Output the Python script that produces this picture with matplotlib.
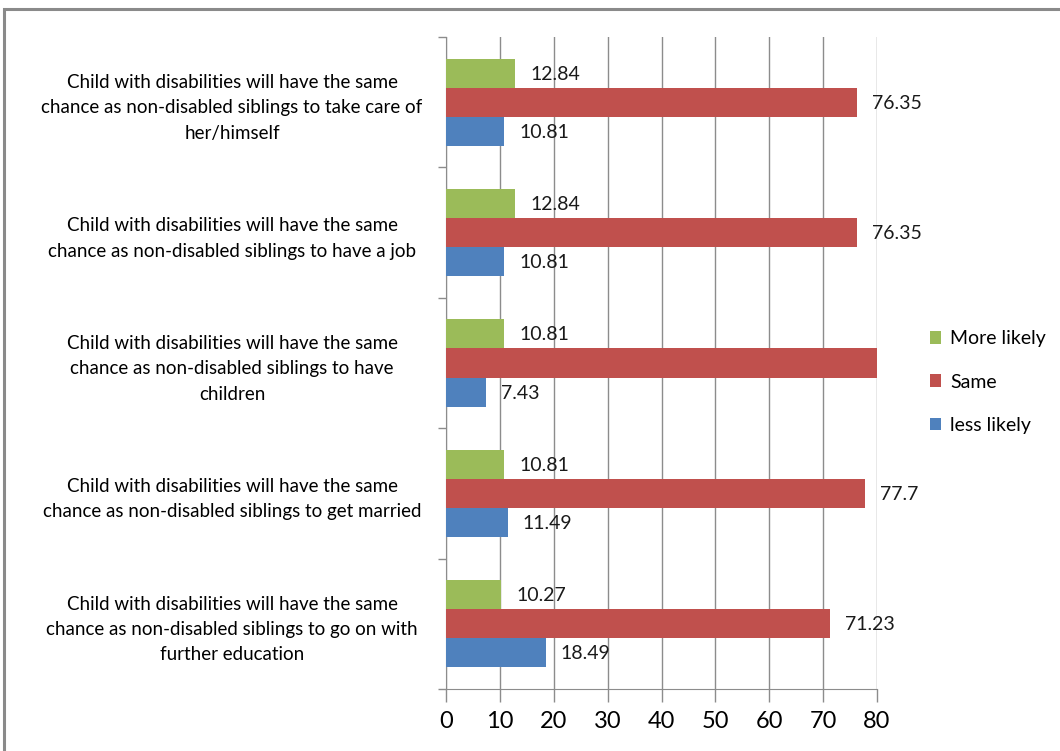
import matplotlib
matplotlib.use("Agg")
import numpy as np
from matplotlib import pyplot as plt
from matplotlib.patches import Rectangle

plt.rcParams['font.family'] = ['Lato', 'DejaVu Sans']

# categories, bottom to top
categories = [
    "Child with disabilities will have the same\nchance as non-disabled siblings to go on with\nfurther education",
    "Child with disabilities will have the same\nchance as non-disabled siblings to get married",
    "Child with disabilities will have the same\nchance as non-disabled siblings to have\nchildren",
    "Child with disabilities will have the same\nchance as non-disabled siblings to have a job",
    "Child with disabilities will have the same\nchance as non-disabled siblings to take care of\nher/himself",
]
more_likely = [10.27, 10.81, 10.81, 12.84, 12.84]
same = [71.23, 77.7, 81.76, 76.35, 76.35]
less_likely = [18.49, 11.49, 7.43, 10.81, 10.81]
x_ticks = [0, 10, 20, 30, 40, 50, 60, 70, 80]

green = '#9BBB59'
red = '#C0504D'
blue = '#4F81BD'
grid_col = '#8C8C8C'

fig = plt.figure(figsize=(10.60, 7.51), dpi=100)
# outer chart frame
fig.patches.append(Rectangle((4 / 1060, -0.01), 1.02, 1 - 9 / 751 + 0.01,
                             transform=fig.transFigure, fill=False,
                             edgecolor='#8A8A8A', lw=2.2))

ax = fig.add_axes([446 / 1060, 62 / 751, 431 / 1060, 652 / 751])
y = np.arange(len(categories))
h = 0.223

bars_g = ax.barh(y + h, more_likely, height=h, color=green, label='More likely', zorder=3)
bars_r = ax.barh(y, same, height=h, color=red, label='Same', zorder=3)
bars_b = ax.barh(y - h, less_likely, height=h, color=blue, label='less likely', zorder=3)

for bars, vals in ((bars_g, more_likely), (bars_r, same), (bars_b, less_likely)):
    for b, v in zip(bars, vals):
        if v > 80:
            continue  # outside the axis, hidden like in the source
        ax.annotate('{:g}'.format(v), xy=(v, b.get_y() + b.get_height() / 2),
                    xytext=(15, -1), textcoords='offset pixels',
                    va='center', ha='left', fontsize=14, color='#1a1a1a', zorder=4)

ax.set_xlim(0, 80)
ax.set_ylim(-0.5, 4.5)
ax.set_xticks(x_ticks)
ax.set_xticklabels([str(t) for t in x_ticks], fontsize=17)
ax.set_yticks(y)
ax.set_yticklabels(categories, fontsize=13.5, ha='center', linespacing=1.6)
ax.tick_params(axis='y', length=0, pad=154)
ax.set_yticks(np.arange(-0.5, 5, 1), minor=True)
ax.tick_params(axis='y', which='minor', length=6, color=grid_col, width=1)
ax.tick_params(axis='x', length=9, color=grid_col, width=1, pad=7)

ax.grid(axis='x', color=grid_col, lw=1, zorder=0)
for s in ('top', 'right'):
    ax.spines[s].set_visible(False)
ax.spines['left'].set_color(grid_col)
ax.spines['bottom'].set_color(grid_col)

handles = [bars_g, bars_r, bars_b]
leg = fig.legend(handles, ['More likely', 'Same', 'less likely'],
                 loc='center left', bbox_to_anchor=(912 / 1060, 1 - 382 / 751),
                 frameon=False, fontsize=14, handlelength=0.6, handleheight=0.6,
                 handletextpad=0.45, labelspacing=1.35)

plt.savefig('out.png', dpi=100)
